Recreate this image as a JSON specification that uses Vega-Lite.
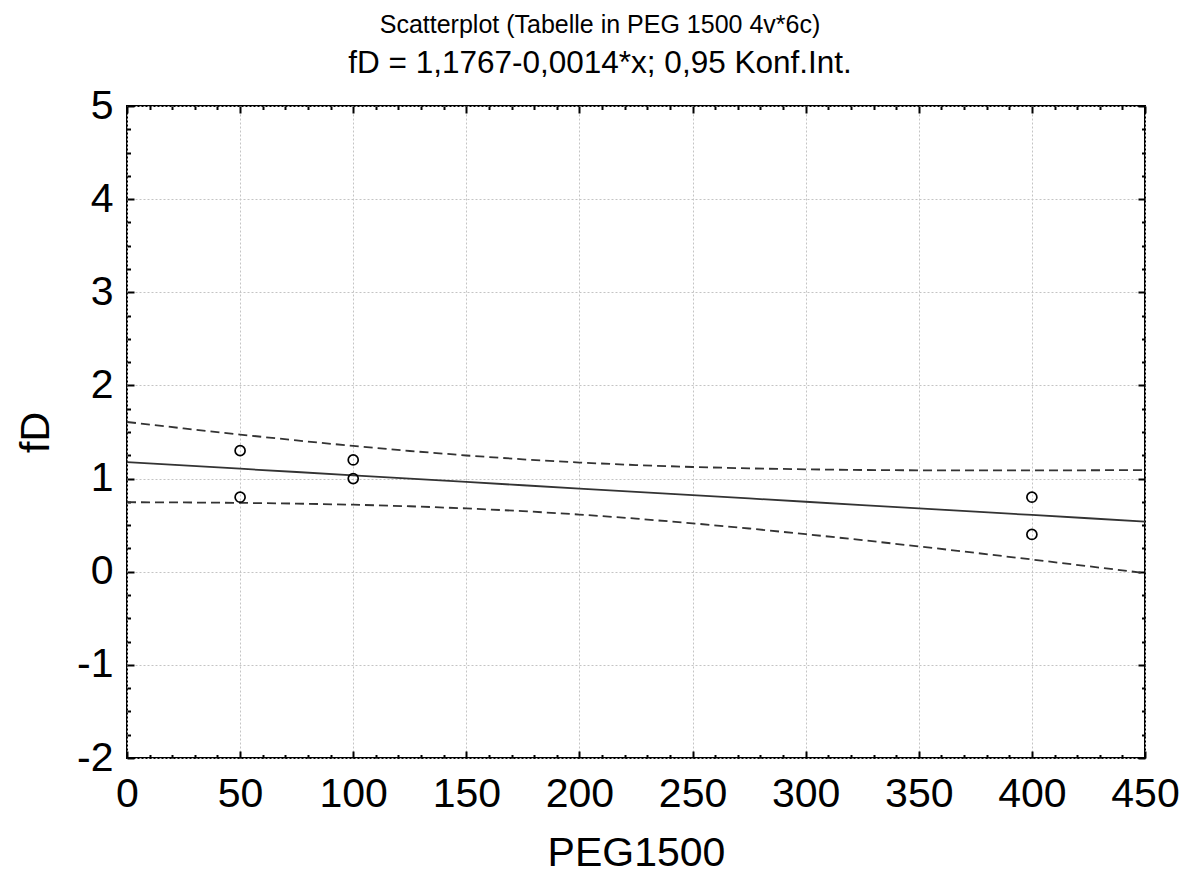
{
  "$schema": "https://vega.github.io/schema/vega-lite/v6.json",
  "width": 1018,
  "height": 652,
  "autosize": {"type": "none"},
  "padding": {"left": 127, "top": 106, "right": 41, "bottom": 115},
  "background": "white",
  "title": {
    "text": "Scatterplot (Tabelle in PEG 1500 4v*6c)",
    "subtitle": "fD = 1,1767-0,0014*x; 0,95 Konf.Int.",
    "font": "Liberation Sans",
    "subtitleFont": "Liberation Sans",
    "fontSize": 25,
    "subtitleFontSize": 31.5,
    "fontWeight": "normal",
    "color": "black",
    "subtitleColor": "black",
    "anchor": "middle",
    "dx": -36,
    "offset": 6,
    "subtitlePadding": 10
  },
  "config": {
    "view": {"stroke": "black", "strokeWidth": 2},
    "axis": {
      "labelFont": "Liberation Sans",
      "titleFont": "Liberation Sans",
      "labelColor": "black",
      "titleColor": "black",
      "titleFontWeight": "normal"
    }
  },
  "datasets": {
    "ci": [
      {"PEG1500": 0, "fit": 1.1767, "lower": 0.7461, "upper": 1.6074},
      {"PEG1500": 25, "fit": 1.1413, "lower": 0.7439, "upper": 1.5386},
      {"PEG1500": 50, "fit": 1.1058, "lower": 0.7392, "upper": 1.4724},
      {"PEG1500": 75, "fit": 1.0704, "lower": 0.7314, "upper": 1.4093},
      {"PEG1500": 100, "fit": 1.0349, "lower": 0.7195, "upper": 1.3502},
      {"PEG1500": 125, "fit": 0.9994, "lower": 0.7027, "upper": 1.2961},
      {"PEG1500": 150, "fit": 0.964, "lower": 0.68, "upper": 1.2479},
      {"PEG1500": 175, "fit": 0.9285, "lower": 0.6505, "upper": 1.2065},
      {"PEG1500": 200, "fit": 0.893, "lower": 0.6138, "upper": 1.1722},
      {"PEG1500": 225, "fit": 0.8576, "lower": 0.5701, "upper": 1.145},
      {"PEG1500": 250, "fit": 0.8221, "lower": 0.5198, "upper": 1.1244},
      {"PEG1500": 275, "fit": 0.7866, "lower": 0.4639, "upper": 1.1094},
      {"PEG1500": 300, "fit": 0.7512, "lower": 0.4034, "upper": 1.0989},
      {"PEG1500": 325, "fit": 0.7157, "lower": 0.3392, "upper": 1.0922},
      {"PEG1500": 350, "fit": 0.6802, "lower": 0.272, "upper": 1.0885},
      {"PEG1500": 375, "fit": 0.6448, "lower": 0.2026, "upper": 1.087},
      {"PEG1500": 400, "fit": 0.6093, "lower": 0.1313, "upper": 1.0873},
      {"PEG1500": 425, "fit": 0.5738, "lower": 0.0587, "upper": 1.089},
      {"PEG1500": 450, "fit": 0.5384, "lower": -0.0152, "upper": 1.0919}
    ],
    "pts": [
      {"PEG1500": 50, "fD": 1.3},
      {"PEG1500": 50, "fD": 0.8},
      {"PEG1500": 100, "fD": 1.2},
      {"PEG1500": 100, "fD": 1.0},
      {"PEG1500": 400, "fD": 0.8},
      {"PEG1500": 400, "fD": 0.4}
    ]
  },
  "resolve": {"axis": {"x": "independent", "y": "independent"}},
  "layer": [
    {
      "data": {"name": "ci"},
      "mark": {"type": "line", "stroke": "#333333", "strokeWidth": 1.8, "strokeDash": [9, 5]},
      "encoding": {
        "x": {
          "field": "PEG1500", "type": "quantitative",
          "scale": {"domain": [0, 450], "nice": false, "zero": false},
          "axis": {
            "orient": "bottom", "title": "PEG1500", "titleFontSize": 41, "titlePadding": 19,
            "values": [0, 50, 100, 150, 200, 250, 300, 350, 400, 450],
            "labelFontSize": 41, "labelPadding": 16, "labelFlush": false, "labelOverlap": false,
            "ticks": false, "tickSize": 0, "domain": false,
            "grid": true, "gridColor": "#c4c4c4", "gridDash": [2, 2], "gridWidth": 1
          }
        },
        "y": {
          "field": "upper", "type": "quantitative",
          "scale": {"domain": [-2, 5], "nice": false, "zero": false},
          "axis": {
            "orient": "left", "title": "fD", "titleFontSize": 41, "titlePadding": 19,
            "values": [-2, -1, 0, 1, 2, 3, 4, 5],
            "labelExpr": "datum.value < 0 ? '-' + abs(datum.value) : '' + datum.value",
            "labelFontSize": 41, "labelPadding": 14, "labelFlush": false, "labelOverlap": false,
            "ticks": false, "tickSize": 0, "domain": false,
            "grid": true, "gridColor": "#c4c4c4", "gridDash": [2, 2], "gridWidth": 1
          }
        }
      }
    },
    {
      "data": {"name": "ci"},
      "mark": {"type": "line", "stroke": "#333333", "strokeWidth": 1.8, "strokeDash": [9, 5]},
      "encoding": {
        "x": {
          "field": "PEG1500", "type": "quantitative",
          "axis": {
            "orient": "bottom", "title": null, "labels": false, "domain": false, "grid": false,
            "values": [0,10,20,30,40,50,60,70,80,90,100,110,120,130,140,150,160,170,180,190,200,210,220,230,240,250,260,270,280,290,300,310,320,330,340,350,360,370,380,390,400,410,420,430,440,450],
            "tickColor": "black", "tickWidth": 2,
            "tickSize": {"condition": {"test": "datum.value % 50 === 0", "value": -7}, "value": -3.5}
          }
        },
        "y": {
          "field": "lower", "type": "quantitative",
          "axis": {
            "orient": "left", "title": null, "labels": false, "domain": false, "grid": false,
            "values": [-2,-1.75,-1.5,-1.25,-1,-0.75,-0.5,-0.25,0,0.25,0.5,0.75,1,1.25,1.5,1.75,2,2.25,2.5,2.75,3,3.25,3.5,3.75,4,4.25,4.5,4.75,5],
            "tickColor": "black", "tickWidth": 2,
            "tickSize": {"condition": {"test": "datum.value % 1 === 0", "value": -7}, "value": -3.5}
          }
        }
      }
    },
    {
      "data": {"name": "ci"},
      "mark": {"type": "line", "stroke": "#333333", "strokeWidth": 1.8},
      "encoding": {
        "x": {
          "field": "PEG1500", "type": "quantitative",
          "axis": {
            "orient": "top", "title": null, "labels": false, "domain": false, "grid": false,
            "values": [0,10,20,30,40,50,60,70,80,90,100,110,120,130,140,150,160,170,180,190,200,210,220,230,240,250,260,270,280,290,300,310,320,330,340,350,360,370,380,390,400,410,420,430,440,450],
            "tickColor": "black", "tickWidth": 2,
            "tickSize": {"condition": {"test": "datum.value % 50 === 0", "value": -7}, "value": -3.5}
          }
        },
        "y": {
          "field": "fit", "type": "quantitative",
          "axis": {
            "orient": "right", "title": null, "labels": false, "domain": false, "grid": false,
            "values": [-2,-1.75,-1.5,-1.25,-1,-0.75,-0.5,-0.25,0,0.25,0.5,0.75,1,1.25,1.5,1.75,2,2.25,2.5,2.75,3,3.25,3.5,3.75,4,4.25,4.5,4.75,5],
            "tickColor": "black", "tickWidth": 2,
            "tickSize": {"condition": {"test": "datum.value % 1 === 0", "value": -7}, "value": -3.5}
          }
        }
      }
    },
    {
      "data": {"name": "pts"},
      "mark": {"type": "point", "shape": "circle", "filled": false, "stroke": "black", "strokeWidth": 1.7, "size": 100, "opacity": 1},
      "encoding": {
        "x": {"field": "PEG1500", "type": "quantitative", "axis": null},
        "y": {"field": "fD", "type": "quantitative", "axis": null}
      }
    }
  ]
}
